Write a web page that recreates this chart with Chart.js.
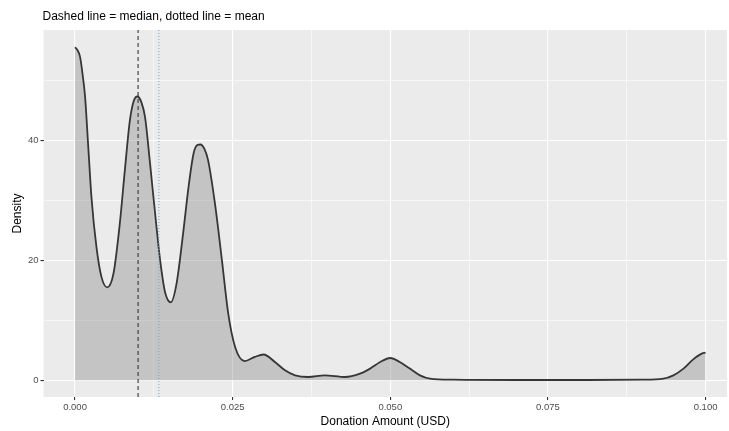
<!DOCTYPE html>
<html>
<head>
<meta charset="utf-8">
<script src="https://cdn.jsdelivr.net/npm/chart.js@4"></script>
<style>
  html, body { margin: 0; padding: 0; background: #fff; }
  canvas { display: block; }
</style>
</head>
<body>
<canvas id="graficoDensidade" width="729" height="431"></canvas>
<script>
// donation amounts (USD) and the density read at each of them
const donationX = [0, 0.0004, 0.0008, 0.0012, 0.0016, 0.0021, 0.0026, 0.0034, 0.0042, 0.0051, 0.0061, 0.0071,
  0.0079, 0.0087, 0.0093, 0.0099, 0.0105, 0.0111, 0.0119, 0.0127, 0.0135, 0.0143, 0.0152, 0.0161,
  0.0172, 0.0180, 0.0188, 0.0194, 0.0199, 0.0205, 0.0211, 0.0222, 0.0233, 0.0243, 0.0254, 0.0269,
  0.0285, 0.0299, 0.0317, 0.0333, 0.0349, 0.0370, 0.0396, 0.0428, 0.0452, 0.0468,
  0.0484, 0.0500, 0.0515, 0.0531, 0.0547, 0.0563, 0.0600, 0.0700, 0.0800, 0.0900,
  0.0933, 0.0949, 0.0965, 0.0980, 0.0994, 0.1000];
const densityY = [55.5, 55.0, 53.9, 51.0, 47.2, 38.9, 30.6, 22.2, 17.2, 15.5, 17.8, 26.1,
  35.0, 43.3, 46.5, 47.3, 46.4, 43.9, 36.1, 27.8, 20.0, 14.6, 13.0, 16.1,
  25.0, 32.2, 37.8, 39.2, 39.3, 38.6, 36.7, 29.4, 20.0, 11.1, 5.5, 3.2,
  3.9, 4.3, 3.05, 1.67, 0.83, 0.55, 0.83, 0.55, 1.1, 1.95,
  3.05, 3.72, 3.05, 1.95, 0.83, 0.28, 0.1, 0.05, 0.05, 0.1,
  0.28, 0.83, 1.95, 3.45, 4.45, 4.6];

const medianValue = 0.01;
const meanValue = 0.0133;

const xTickValues = [0, 0.0125, 0.025, 0.0375, 0.05, 0.0625, 0.075, 0.0875, 0.1];
const xTickLabels = ["0.000", "", "0.025", "", "0.050", "", "0.075", "", "0.100"];
const yTickValues = [0, 10, 20, 30, 40, 50];
const yTickLabels = ["0", "", "20", "", "40", ""];

const titleText = "Dashed line = median, dotted line = mean";
const xTitle = "Donation Amount (USD)";
const yTitle = "Density";

const xMin = -0.005, xMax = 0.1034;
const yMin = -2.78, yMax = 58.38;

const fontFamily = "'Liberation Sans', Arial, sans-serif";

function labelFor(values, labels, v) {
  const i = values.findIndex(t => Math.abs(t - v) < 1e-9);
  return i >= 0 ? labels[i] : "";
}
function isMajor(labels, ctx) {
  return ctx.index !== undefined && labels[ctx.index] !== "";
}

const panelBackground = {
  id: "panelBackground",
  beforeDraw(chart) {
    const { ctx, chartArea } = chart;
    ctx.save();
    ctx.fillStyle = "#ebebeb";
    ctx.fillRect(chartArea.left, chartArea.top, chartArea.right - chartArea.left, chartArea.bottom - chartArea.top);
    ctx.restore();
  },
};

const plotTitle = {
  id: "plotTitle",
  afterDraw(chart) {
    const { ctx, chartArea } = chart;
    ctx.save();
    ctx.font = "12px " + fontFamily;
    ctx.fillStyle = "#000";
    ctx.textBaseline = "middle";
    ctx.textAlign = "left";
    ctx.fillText(titleText, chartArea.left - 1, 16.5);
    ctx.restore();
  },
};

const ctx = document.getElementById("graficoDensidade").getContext("2d");

new Chart(ctx, {
  type: "line",
  data: {
    datasets: [
      {
        label: "median",
        data: [{ x: medianValue, y: yMin }, { x: medianValue, y: yMax }],
        borderColor: "#333333",
        borderWidth: 1.1,
        borderDash: [4, 3],
        pointRadius: 0,
        fill: false,
        order: 0,
      },
      {
        label: "mean",
        data: [{ x: meanValue, y: yMin }, { x: meanValue, y: yMax }],
        borderColor: "#7aa6cf",
        borderWidth: 1.1,
        borderDash: [1, 2],
        pointRadius: 0,
        fill: false,
        order: 0,
      },
      {
        label: "density",
        data: donationX.map((x, i) => ({ x: x, y: densityY[i] })),
        borderColor: "#363636",
        borderWidth: 1.8,
        backgroundColor: "rgba(127, 127, 127, 0.36)",
        fill: "origin",
        cubicInterpolationMode: "monotone",
        pointRadius: 0,
        order: 1,
      },
    ],
  },
  options: {
    responsive: false,
    animation: false,
    layout: { padding: { top: 30, right: 2, left: 0, bottom: 0 } },
    plugins: {
      legend: { display: false },
      tooltip: { enabled: false },
      title: { display: false },
    },
    scales: {
      x: {
        type: "linear",
        min: xMin,
        max: xMax,
        afterBuildTicks: (axis) => { axis.ticks = xTickValues.map(v => ({ value: v })); },
        afterFit: (axis) => { axis.height = 34; },
        border: { display: false },
        grid: {
          color: "#ffffff",
          lineWidth: (c) => isMajor(xTickLabels, c) ? 1.1 : 0.55,
          tickColor: (c) => isMajor(xTickLabels, c) ? "#333333" : "rgba(0,0,0,0)",
          tickLength: 3,
        },
        ticks: {
          autoSkip: false,
          maxRotation: 0,
          padding: 2,
          color: "#4d4d4d",
          font: { family: fontFamily, size: 9.5 },
          callback: (v) => labelFor(xTickValues, xTickLabels, v),
        },
        title: {
          display: true,
          text: xTitle,
          color: "#000",
          font: { family: fontFamily, size: 12 },
          padding: { top: 0, bottom: 2 },
        },
      },
      y: {
        type: "linear",
        min: yMin,
        max: yMax,
        afterBuildTicks: (axis) => { axis.ticks = yTickValues.map(v => ({ value: v })); },
        afterFit: (axis) => { axis.width = 43.5; },
        border: { display: false },
        grid: {
          color: "#ffffff",
          lineWidth: (c) => isMajor(yTickLabels, c) ? 1.1 : 0.55,
          tickColor: (c) => isMajor(yTickLabels, c) ? "#333333" : "rgba(0,0,0,0)",
          tickLength: 3,
        },
        ticks: {
          autoSkip: false,
          padding: 2,
          color: "#4d4d4d",
          font: { family: fontFamily, size: 9.5 },
          callback: (v) => labelFor(yTickValues, yTickLabels, v),
        },
        title: {
          display: true,
          text: yTitle,
          color: "#000",
          font: { family: fontFamily, size: 12 },
          padding: { top: 10, bottom: 0 },
        },
      },
    },
  },
  plugins: [panelBackground, plotTitle],
});
</script>
</body>
</html>
